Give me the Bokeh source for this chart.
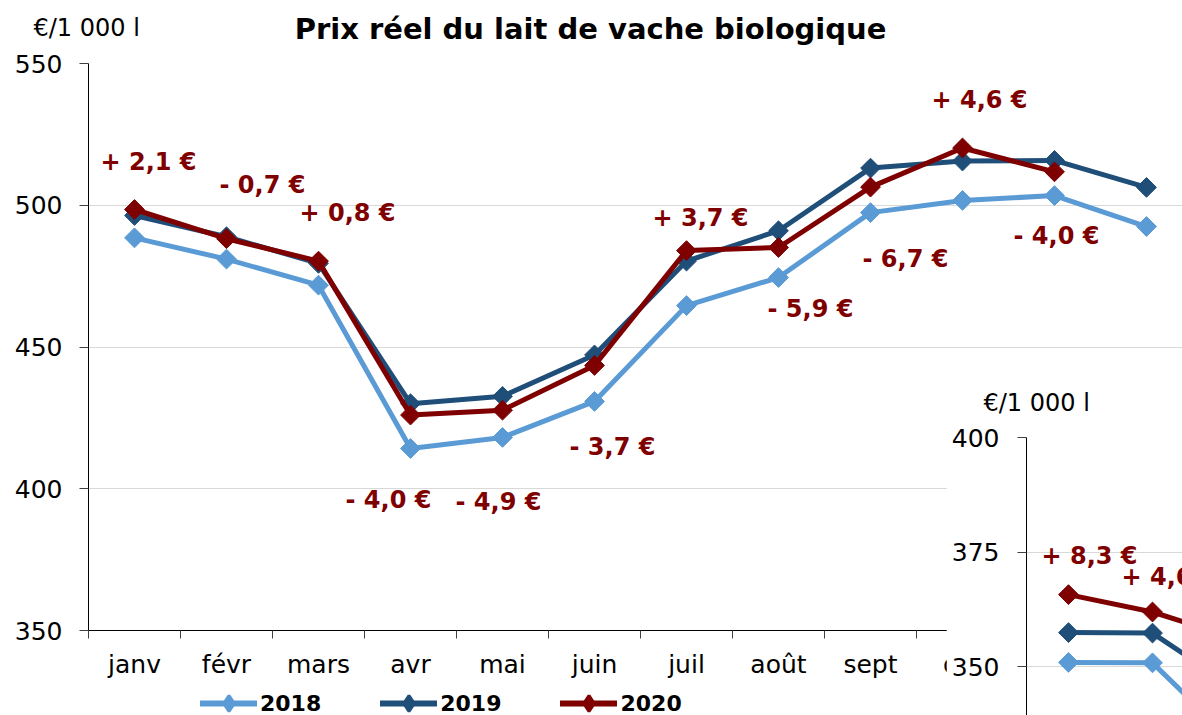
import numpy as np
from bokeh.plotting import figure
from bokeh.models import (Range1d, FixedTicker, Legend, LegendItem, ColumnDataSource)
from bokeh.layouts import column, row
from bokeh.embed import file_html
from bokeh.resources import INLINE
from bokeh.core.properties import value

# ---------------- data ----------------
months = ["janv", "févr", "mars", "avr", "mai", "juin", "juil", "août", "sept", "oct", "nov", "déc"]
prix_2018 = [488.5, 481.0, 471.8, 414.2, 418.1, 430.8, 464.6, 474.5, 497.4, 501.7, 503.4, 492.5]
prix_2019 = [496.4, 488.9, 479.5, 430.0, 432.6, 447.2, 480.3, 491.0, 513.1, 515.6, 515.8, 506.3]
prix_2020 = [498.5, 488.2, 480.3, 426.0, 427.7, 443.5, 484.0, 485.1, 506.4, 520.2, 511.8]
ecarts_2020 = ["+ 2,1 €", "- 0,7 €", "+ 0,8 €", "- 4,0 €", "- 4,9 €", "- 3,7 €",
               "+ 3,7 €", "- 5,9 €", "- 6,7 €", "+ 4,6 €", "- 4,0 €"]
years = ["2018", "2019", "2020"]
y_ticks_main = [350, 400, 450, 500, 550]

# inset (second chart, partly visible)
inset_months = ["janv", "févr", "mars"]
conv_2018 = [350.9, 350.8, 333.0]
conv_2019 = [357.4, 357.3, 345.0]
conv_2020 = [365.7, 361.9, 356.0]
conv_ecarts = ["+ 8,3 €", "+ 4,6 €"]
y_ticks_inset = [350, 375, 400]

title_text = "Prix réel du lait de vache biologique"
unit_text = "€/1 000 l"

# ---------------- styles ----------------
COLORS = ["#5B9BD5", "#1F4E79", "#7F0000"]
FONT = "DejaVu Sans"
RED = "#7F0000"
GRID = "#D9D9D9"
lab_dx = [14, 36, 29, -22, -4, 18, 14, 32, 35, 17, 2]
lab_dy = [-48, -54, -48, 85, 92, 82, -33, 62, 72, -48, 64]
inset_dx = [21, 17]
inset_dy = [-39, -35]

W, H = 1182, 715
LB = 88
CAT = 92.0
MSIZE = 14

p = figure(width=W, height=H, x_range=Range1d(0, (W - LB) / CAT), y_range=Range1d(350, 550),
           output_backend="svg", toolbar_location=None,
           min_border_left=LB, min_border_right=0, min_border_top=63, min_border_bottom=85)
p.outline_line_color = None
p.background_fill_color = "white"
p.border_fill_color = "white"
p.title.visible = False

xa = p.xaxis[0]
xa.ticker = FixedTicker(ticks=[i + 0.5 for i in range(len(months))],
                        minor_ticks=list(range(len(months) + 1)))
xa.major_label_overrides = {i + 0.5: m for i, m in enumerate(months)}
xa.major_tick_line_color = None
xa.major_tick_out = 0
xa.major_tick_in = 0
xa.minor_tick_line_color = "#404040"
xa.minor_tick_out = 8
xa.minor_tick_in = 0
xa.major_label_standoff = 11
xa.major_label_text_font = FONT
xa.major_label_text_font_size = "25px"
xa.major_label_text_color = "black"
xa.axis_line_color = "black"
p.xgrid.visible = False

ya = p.yaxis[0]
ya.ticker = FixedTicker(ticks=y_ticks_main)
ya.minor_tick_line_color = None
ya.major_tick_out = 9
ya.major_tick_in = 0
ya.major_tick_line_color = "#404040"
ya.major_label_standoff = 17
ya.major_label_text_font = FONT
ya.major_label_text_font_size = "25px"
ya.major_label_text_color = "black"
ya.axis_line_color = "black"
p.ygrid.ticker = FixedTicker(ticks=y_ticks_main)
p.ygrid.grid_line_color = GRID
p.ygrid.grid_line_width = 1

for vals, col in zip([prix_2018, prix_2019, prix_2020], COLORS):
    xs = [i + 0.5 for i in range(len(vals))]
    p.line(xs, vals, line_width=5, line_color=col, line_join="round")
    p.scatter(xs, vals, marker="square", angle=np.pi / 4, size=MSIZE,
              fill_color=col, line_color=col)

src = ColumnDataSource(dict(x=[i + 0.5 for i in range(len(prix_2020))], y=prix_2020,
                            text=ecarts_2020, dx=lab_dx, dy=lab_dy))
p.text(x="x", y="y", text="text", x_offset="dx", y_offset="dy", source=src,
       text_font=value(FONT), text_font_style="bold", text_font_size="24px",
       text_color=RED, text_align="center", text_baseline="middle")

# ---------------- inset (own row, so its border is not aligned with the main chart) -----
IX, IY = 946, 375
ILB = 80
IAXIS = IX + ILB
IW, IH = W - IX, H - IY
IPX = 229 / 50.0
ICAT = 84.0
ip = figure(width=IW, height=IH, x_range=Range1d(0, (W - IAXIS) / ICAT),
            y_range=Range1d(400 - (IH - 62) / IPX, 400),
            output_backend="svg", toolbar_location=None, x_axis_location=None,
            min_border_left=ILB, min_border_right=0, min_border_top=62, min_border_bottom=0)
ip.outline_line_color = None
ip.background_fill_color = "white"
ip.border_fill_color = "white"
ip.title.visible = False
iya = ip.yaxis[0]
iya.ticker = FixedTicker(ticks=y_ticks_inset)
iya.minor_tick_line_color = None
iya.major_tick_out = 9
iya.major_tick_in = 0
iya.major_tick_line_color = "#404040"
iya.major_label_standoff = 18
iya.major_label_text_font = FONT
iya.major_label_text_font_size = "25px"
iya.major_label_text_color = "black"
iya.axis_line_color = "black"
ip.ygrid.ticker = FixedTicker(ticks=y_ticks_inset)
ip.ygrid.grid_line_color = GRID
ip.xgrid.visible = False

for vals, col in zip([conv_2018, conv_2019, conv_2020], COLORS):
    xs = [i + 0.5 for i in range(len(vals))]
    ip.line(xs, vals, line_width=5, line_color=col, line_join="round")
    ip.scatter(xs, vals, marker="square", angle=np.pi / 4, size=MSIZE,
               fill_color=col, line_color=col)

isrc = ColumnDataSource(dict(x=[i + 0.5 for i in range(len(conv_ecarts))],
                             y=conv_2020[:len(conv_ecarts)], text=conv_ecarts,
                             dx=inset_dx, dy=inset_dy))
ip.text(x="x", y="y", text="text", x_offset="dx", y_offset="dy", source=isrc,
        text_font=value(FONT), text_font_style="bold", text_font_size="24px",
        text_color=RED, text_align="center", text_baseline="middle")

ip_box = row(ip, spacing=0)
ip_box.margin = (-IH, 0, 0, IX)

# ---------------- transparent overlay: title, unit labels, legend ----------------
ov = figure(width=W, height=H, x_range=Range1d(0, W), y_range=Range1d(H, 0),
            output_backend="svg", toolbar_location=None, title=None,
            x_axis_location=None, y_axis_location=None,
            min_border_left=0, min_border_right=0, min_border_top=0, min_border_bottom=0)
ov.outline_line_color = None
ov.background_fill_color = None
ov.border_fill_color = None
ov.grid.visible = False

ov.text(x=[590], y=[28], text=[title_text], text_font=value(FONT), text_font_style="bold",
        text_font_size="29px", text_color="black", text_align="center",
        text_baseline="middle")
ov.text(x=[33, 983], y=[27, 402], text=[unit_text, unit_text], text_font=value(FONT),
        text_font_size="24px", text_color="black", text_align="left", text_baseline="middle")

items = []
for yr, col in zip(years, COLORS):
    r_line = ov.line([-1000, -990], [-1000, -1000], line_width=6, line_color=col,
                     line_cap="round")
    r_pts = ov.scatter([-1000], [-1000], marker="diamond", size=MSIZE,
                       fill_color=col, line_color=col, line_width=3)
    items.append(LegendItem(label=yr, renderers=[r_line, r_pts]))
legend = Legend(items=items, orientation="horizontal", location=(200, -8),
                glyph_width=57, glyph_height=40, label_standoff=3, spacing=59,
                label_text_font=FONT, label_text_font_style="bold", label_text_font_size="22px",
                label_text_color="black", padding=0, margin=0, border_line_color=None,
                background_fill_alpha=0)
ov.add_layout(legend, "center")

ov_box = row(ov, spacing=0)
ov_box.margin = (-H, 0, 0, 0)

layout = column(p, ip_box, ov_box, spacing=0)
open("out.html", "w").write(file_html(layout, INLINE))
